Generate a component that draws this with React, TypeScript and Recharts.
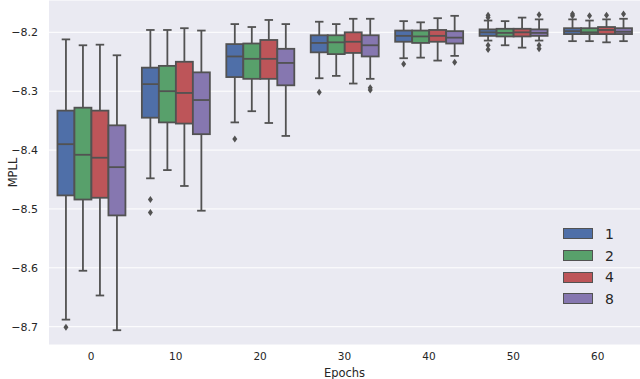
import React from 'react';
import { ComposedChart, Bar, XAxis, YAxis, CartesianGrid } from 'recharts';

const epochs = ['0', '10', '20', '30', '40', '50', '60'];
const hues = ['1', '2', '4', '8'];
const colors = ['#4f6fa8', '#58a06b', '#bd5559', '#8677b0'];
const yTicks = [-8.7, -8.6, -8.5, -8.4, -8.3, -8.2];

// rows: hue 1, 2, 4, 8 ; columns: epochs
const whiskerHigh = [
  [-8.212, -8.196, -8.186, -8.182, -8.181, -8.180, -8.178],
  [-8.222, -8.196, -8.191, -8.186, -8.183, -8.181, -8.180],
  [-8.221, -8.193, -8.179, -8.177, -8.176, -8.175, -8.178],
  [-8.239, -8.197, -8.186, -8.177, -8.172, -8.178, -8.177],
];
const q3 = [
  [-8.333, -8.260, -8.220, -8.205, -8.197, -8.195, -8.193],
  [-8.328, -8.257, -8.219, -8.205, -8.197, -8.194, -8.193],
  [-8.333, -8.250, -8.213, -8.200, -8.196, -8.194, -8.191],
  [-8.358, -8.268, -8.228, -8.205, -8.198, -8.195, -8.193],
];
const median = [
  [-8.390, -8.288, -8.241, -8.218, -8.206, -8.200, -8.198],
  [-8.408, -8.300, -8.245, -8.217, -8.207, -8.201, -8.200],
  [-8.413, -8.303, -8.245, -8.216, -8.206, -8.200, -8.196],
  [-8.429, -8.315, -8.252, -8.222, -8.209, -8.201, -8.199],
];
const q1 = [
  [-8.477, -8.345, -8.276, -8.234, -8.216, -8.206, -8.203],
  [-8.484, -8.353, -8.279, -8.237, -8.218, -8.207, -8.203],
  [-8.481, -8.355, -8.279, -8.235, -8.216, -8.207, -8.203],
  [-8.511, -8.373, -8.290, -8.241, -8.219, -8.206, -8.203],
];
const whiskerLow = [
  [-8.688, -8.448, -8.353, -8.278, -8.244, -8.214, -8.215],
  [-8.605, -8.434, -8.334, -8.274, -8.243, -8.222, -8.215],
  [-8.647, -8.461, -8.354, -8.287, -8.248, -8.226, -8.217],
  [-8.706, -8.503, -8.376, -8.279, -8.240, -8.214, -8.215],
];
const outliers: number[][][] = [
  [[-8.701], [-8.484, -8.506], [-8.381], [-8.302], [-8.254], [-8.171, -8.175, -8.222, -8.229], [-8.169, -8.172]],
  [[], [], [], [], [], [], [-8.172]],
  [[], [], [], [], [], [], [-8.171]],
  [[], [], [], [-8.294, -8.298], [-8.251], [-8.170, -8.222, -8.228], [-8.169]],
];

const data = epochs.map((e, j) => {
  const row: any = { epoch: e };
  hues.forEach((_, h) => {
    const all = [whiskerLow[h][j], whiskerHigh[h][j], ...outliers[h][j]];
    row['r' + h] = [Math.min(...all), Math.max(...all)];
  });
  return row;
});

const LINE = '#525252';
const LW = 1.8;
const FONT = 'DejaVu Sans, sans-serif';

const makeShape = (h: number) => (props: any) => {
  const { x, y, width, height, payload } = props;
  const j = epochs.indexOf(payload.epoch);
  const [lo, hi] = payload['r' + h];
  const top = Math.min(y, y + height);
  const ht = Math.abs(height);
  const pix = (v: number) => (hi === lo ? top : top + ((hi - v) / (hi - lo)) * ht);
  const cx = x + width / 2;
  const capHalf = width / 4;
  const yQ3 = pix(q3[h][j]);
  const yQ1 = pix(q1[h][j]);
  const yMed = pix(median[h][j]);
  const yHi = pix(whiskerHigh[h][j]);
  const yLo = pix(whiskerLow[h][j]);
  return (
    <g>
      <line x1={cx} x2={cx} y1={yHi} y2={yQ3} stroke={LINE} strokeWidth={LW} />
      <line x1={cx} x2={cx} y1={yQ1} y2={yLo} stroke={LINE} strokeWidth={LW} />
      <line x1={cx - capHalf} x2={cx + capHalf} y1={yHi} y2={yHi} stroke={LINE} strokeWidth={LW} />
      <line x1={cx - capHalf} x2={cx + capHalf} y1={yLo} y2={yLo} stroke={LINE} strokeWidth={LW} />
      <rect x={x} y={yQ3} width={width} height={Math.max(yQ1 - yQ3, 0.5)} fill={colors[h]} stroke={LINE} strokeWidth={LW} />
      <line x1={x} x2={x + width} y1={yMed} y2={yMed} stroke={LINE} strokeWidth={LW} />
      {outliers[h][j].map((v, k) => {
        const py = pix(v);
        return (
          <polygon
            key={k}
            points={`${cx},${py - 3.5} ${cx + 2.5},${py} ${cx},${py + 3.5} ${cx - 2.5},${py}`}
            fill={LINE}
          />
        );
      })}
    </g>
  );
};

function LegendBox() {
  return (
    <div
      style={{
        position: 'absolute',
        left: 563,
        top: 223,
        fontFamily: FONT,
        fontSize: 14,
        color: '#262626',
        pointerEvents: 'none',
      }}
    >
      {hues.map((hname, h) => (
        <div key={hname} style={{ display: 'flex', alignItems: 'center', height: 21.7 }}>
          <div
            style={{
              width: 28,
              height: 9,
              background: colors[h],
              border: `1px solid ${LINE}`,
              marginRight: 12,
            }}
          />
          <span>{hname}</span>
        </div>
      ))}
    </div>
  );
}

export default function App() {
  return (
    <div style={{ position: 'absolute', left: 0, top: 0, width: 640, height: 379, background: '#ffffff' }}>
      <ComposedChart
        width={640}
        height={379}
        data={data}
        margin={{ top: 0, right: 0, bottom: 0, left: 0 }}
        barCategoryGap="10%"
        barGap={0}
      >
        <CartesianGrid vertical={false} stroke="#ffffff" strokeWidth={1} fill="#eaeaf2" />
        <XAxis
          dataKey="epoch"
          type="category"
          height={34}
          axisLine={false}
          tickLine={false}
          tick={{ fontSize: 10.5, fill: '#262626', fontFamily: FONT }}
          tickMargin={2}
          label={{ value: 'Epochs', position: 'insideBottom', offset: 2, fontSize: 11.5, fill: '#262626', fontFamily: FONT }}
        />
        <YAxis
          type="number"
          domain={[-8.7311, -8.1451]}
          ticks={yTicks}
          allowDataOverflow
          width={49}
          axisLine={false}
          tickLine={false}
          tickMargin={5}
          tick={{ fontSize: 11, fill: '#262626', fontFamily: FONT }}
          tickFormatter={(v: number) => v.toFixed(1).replace('-', '\u2212')}
          label={{ value: 'MPLL', angle: -90, position: 'insideLeft', offset: 13, fontSize: 11.5, fill: '#262626', fontFamily: FONT, style: { textAnchor: 'middle' } }}
        />
        {hues.map((hname, h) => (
          <Bar
            key={hname}
            dataKey={'r' + h}
            name={hname}
            fill={colors[h]}
            isAnimationActive={false}
            shape={makeShape(h)}
          />
        ))}
      </ComposedChart>
      <LegendBox />
    </div>
  );
}
